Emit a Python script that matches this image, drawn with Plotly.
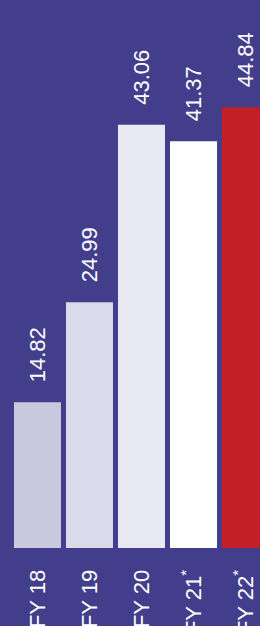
import plotly.graph_objects as go

categories = ["FY 18", "FY 19", "FY 20", "FY 21<sup>*</sup>", "FY 22<sup>*</sup>"]
values = [14.82, 24.99, 43.06, 41.37, 44.84]
bar_colors = ["#c9c8de", "#dadaea", "#e9e9f3", "#ffffff", "#c21f26"]
labels = ["14.82", "24.99", "43.06", "41.37", "44.84"]

bg = "#433e8c"
font_family = "Liberation Sans, Arial, sans-serif"

xs = list(range(len(categories)))

fig = go.Figure(go.Bar(
    x=xs,
    y=values,
    marker=dict(color=bar_colors, line=dict(width=0)),
    width=47 / 52,
    hoverinfo="skip",
))

for x, v, lab in zip(xs, values, labels):
    fig.add_annotation(
        x=x, y=v, text=lab, textangle=-90,
        xanchor="center", yanchor="bottom",
        yshift=18, showarrow=False,
        font=dict(family=font_family, size=22, color="#ffffff"),
    )

fig.update_layout(
    width=260, height=626,
    margin=dict(l=0, r=0, t=0, b=78, autoexpand=False),
    paper_bgcolor=bg, plot_bgcolor=bg,
    showlegend=False,
    xaxis=dict(
        range=[-0.721, 4.279],
        tickmode="array",
        tickvals=xs,
        ticktext=categories,
        tickangle=-90,
        tickfont=dict(family=font_family, size=22, color="#ffffff"),
        showgrid=False, zeroline=False, showline=False,
        ticks="outside", ticklen=12, tickcolor="rgba(0,0,0,0)",
        automargin=False,
        fixedrange=True,
    ),
    yaxis=dict(
        range=[0, 548 / 9.83],
        visible=False, showgrid=False, zeroline=False,
        automargin=False,
        fixedrange=True,
    ),
)

fig.write_html(
    "out.html",
    config={"displayModeBar": False},
    post_script="document.body.style.margin='0';document.body.style.overflow='hidden';document.body.style.background='" + bg + "';",
)
